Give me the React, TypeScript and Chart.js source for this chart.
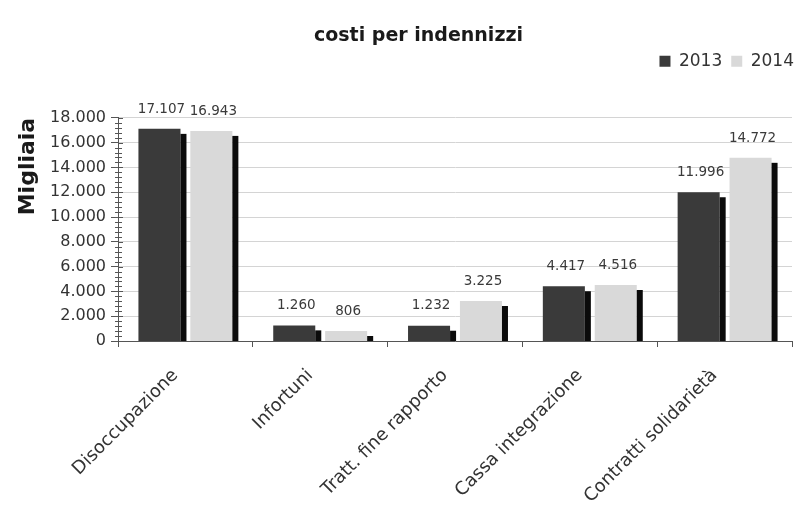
import React, { useEffect, useRef } from "react";
import { Chart, registerables } from "chart.js";

Chart.register(...registerables);

const categories = [
  "Disoccupazione",
  "Infortuni",
  "Tratt. fine rapporto",
  "Cassa integrazione",
  "Contratti solidarietà",
];
const series2013 = [17107, 1260, 1232, 4417, 11996];
const series2014 = [16943, 806, 3225, 4516, 14772];
const seriesLabels = ["2013", "2014"];
const yMin = 0;
const yMax = 18000;
const yStep = 2000;
const yMinorStep = 400;

const FONT = "'DejaVu Sans', sans-serif";
const fmt = (v: number) =>
  String(Math.round(v)).replace(/\B(?=(\d{3})+(?!\d))/g, ".");

const decorPlugin = {
  id: "decor",
  afterDatasetsDraw(chart: any) {
    const ctx = chart.ctx;
    ctx.save();
    // 3D-like side shadows
    chart.data.datasets.forEach((_: any, di: number) => {
      const meta = chart.getDatasetMeta(di);
      meta.data.forEach((el: any) => {
        const { x, y, base, width } = el.getProps(["x", "y", "base", "width"], true);
        ctx.fillStyle = "#0b0b0b";
        ctx.fillRect(x + width / 2, y + 5, 6, base - y - 5);
      });
    });
    // data labels
    ctx.fillStyle = "#3a3a3a";
    ctx.font = `13.5px ${FONT}`;
    ctx.textAlign = "center";
    ctx.textBaseline = "bottom";
    chart.data.datasets.forEach((ds: any, di: number) => {
      const meta = chart.getDatasetMeta(di);
      meta.data.forEach((el: any, i: number) => {
        const { x, y } = el.getProps(["x", "y"], true);
        ctx.fillText(fmt(ds.data[i]), x + 2, y - 13);
      });
    });
    // minor ticks on y axis
    const ys = chart.scales.y;
    const ax = ys.right;
    ctx.strokeStyle = "#555";
    ctx.lineWidth = 1;
    for (let v = yMin; v <= yMax; v += yMinorStep) {
      const py = Math.round(ys.getPixelForValue(v)) + 0.5;
      ctx.beginPath();
      if (v % yStep === 0) {
        ctx.moveTo(ax, py);
        ctx.lineTo(ax + 5, py);
      } else {
        ctx.moveTo(ax - 3, py);
        ctx.lineTo(ax + 4, py);
      }
      ctx.stroke();
    }
    ctx.restore();
  },
};

export default function App() {
  const ref = useRef<HTMLCanvasElement | null>(null);
  useEffect(() => {
    if (!ref.current) return;
    const chart = new Chart(ref.current, {
      type: "bar",
      data: {
        labels: categories,
        datasets: [
          {
            label: seriesLabels[0],
            data: series2013,
            backgroundColor: "#3a3a3a",
            categoryPercentage: 0.77,
            barPercentage: 0.81,
          },
          {
            label: seriesLabels[1],
            data: series2014,
            backgroundColor: "#d9d9d9",
            categoryPercentage: 0.77,
            barPercentage: 0.81,
          },
        ],
      },
      options: {
        animation: false,
        responsive: true,
        maintainAspectRatio: false,
        layout: { padding: { left: 34, right: 0, top: 0, bottom: 0 } },
        plugins: {
          title: {
            display: true,
            text: "costi per indennizzi",
            color: "#1a1a1a",
            font: { family: FONT, size: 19, weight: "bold" },
            padding: { top: 25, bottom: -4 },
          },
          legend: {
            display: true,
            position: "top",
            align: "end",
            labels: {
              color: "#333",
              font: { family: FONT, size: 17 },
              boxWidth: 11,
              boxHeight: 11,
              padding: 9,
            },
          },
          tooltip: { enabled: false },
        },
        scales: {
          x: {
            offset: true,
            grid: {
              offset: true,
              drawOnChartArea: false,
              drawTicks: true,
              tickLength: 6,
              tickColor: "#555",
            },
            border: { display: true, color: "#555" },
            ticks: {
              color: "#333",
              font: { family: FONT, size: 18 },
              maxRotation: 45,
              minRotation: 45,
              padding: 18,
              labelOffset: -10,
            },
            afterFit: (scale: any) => {
              scale.height = 164;
            },
          },
          xTopSpacer: {
            type: "category",
            position: "top",
            display: true,
            grid: { display: false, drawTicks: false },
            border: { display: false },
            ticks: { display: false },
            afterFit: (scale: any) => {
              scale.height = 38;
            },
          },
          yRightSpacer: {
            type: "linear",
            position: "right",
            display: true,
            grid: { display: false, drawTicks: false },
            border: { display: false },
            ticks: { display: false },
            afterFit: (scale: any) => {
              scale.width = 11;
            },
          },
          y: {
            min: yMin,
            max: yMax,
            ticks: {
              stepSize: yStep,
              color: "#333",
              font: { family: FONT, size: 16 },
              padding: 5,
              callback: (v: any) => fmt(Number(v)),
            },
            grid: {
              color: "#d4d4d4",
              tickColor: "#555",
              tickLength: 7,
            },
            border: { display: true, color: "#555" },
            title: {
              display: true,
              text: "Migliaia",
              align: "end",
              color: "#1a1a1a",
              font: { family: FONT, size: 22, weight: "bold" },
              padding: { top: -19, bottom: 0 },
            },
            afterFit: (scale: any) => {
              scale.width = 84;
            },
          },
        },
      },
      plugins: [decorPlugin],
    });
    return () => chart.destroy();
  }, []);
  return (
    <div style={{ position: "fixed", left: 0, top: 0, width: 803, height: 505, background: "#fff" }}>
      <canvas ref={ref} />
    </div>
  );
}
